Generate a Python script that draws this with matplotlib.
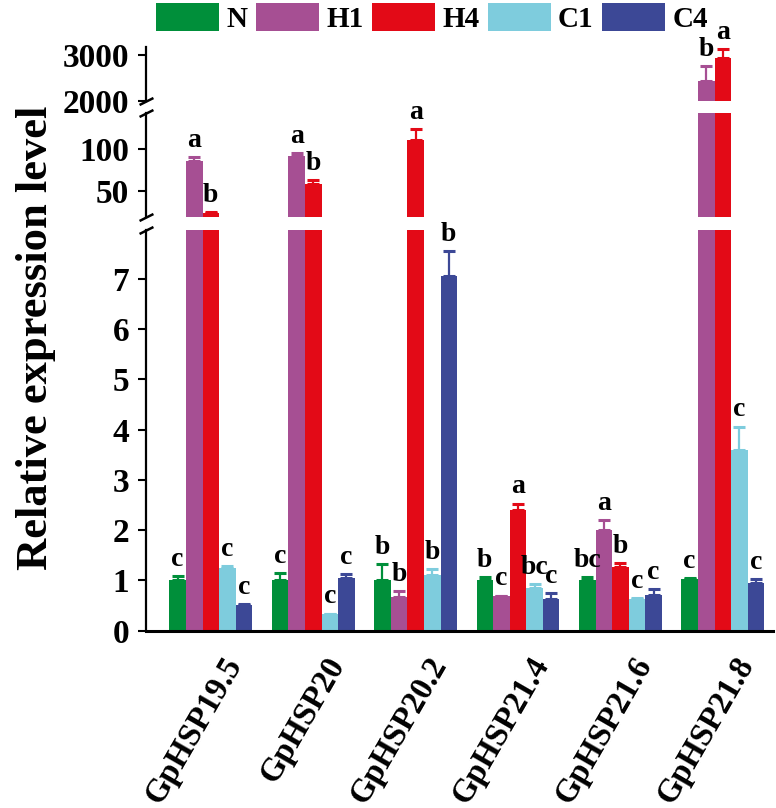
import matplotlib
matplotlib.use('Agg')
import matplotlib.pyplot as plt
import matplotlib.transforms as mtransforms
import numpy as np

# data
genes = ['GpHSP19.5', 'GpHSP20', 'GpHSP20.2', 'GpHSP21.4', 'GpHSP21.6', 'GpHSP21.8']
treatments = ['N', 'H1', 'H4', 'C1', 'C4']
colors = ['#008F3A', '#A64F93', '#E30A17', '#7ECCDD', '#3C4896']

n_val = [1.0, 1.0, 1.0, 1.01, 1.01, 1.03]
n_err = [0.09, 0.15, 0.33, 0.06, 0.05, 0.01]
h1_val = [86, 92, 0.67, 0.69, 2.01, 2441]
h1_err = [4.5, 3.6, 0.12, 0.01, 0.19, 326]
h4_val = [23, 58, 111, 2.41, 1.27, 2941]
h4_err = [1.0, 4.5, 13.3, 0.12, 0.08, 183]
c1_val = [1.25, 0.33, 1.10, 0.84, 0.64, 3.59]
c1_err = [0.03, 0.01, 0.13, 0.09, 0.01, 0.47]
c4_val = [0.51, 1.05, 7.05, 0.64, 0.72, 0.95]
c4_err = [0.02, 0.08, 0.50, 0.10, 0.10, 0.08]

n_let = ['c', 'c', 'b', 'b', 'bc', 'c']
h1_let = ['a', 'a', 'b', 'c', 'a', 'b']
h4_let = ['b', 'b', 'a', 'a', 'b', 'a']
c1_let = ['c', 'c', 'b', 'bc', 'c', 'c']
c4_let = ['c', 'c', 'b', 'c', 'c', 'c']

values = [n_val, h1_val, h4_val, c1_val, c4_val]
errors = [n_err, h1_err, h4_err, c1_err, c4_err]
letters = [n_let, h1_let, h4_let, c1_let, c4_let]

plt.rcParams['font.family'] = ['Liberation Serif', 'DejaVu Serif']
plt.rcParams['font.weight'] = 'bold'

W, H = 776, 808
fig = plt.figure(figsize=(W / 100, H / 100), dpi=100)


def frac_axes(top_px, bottom_px, left_px=146, right_px=773):
    return fig.add_axes([left_px / W, 1 - bottom_px / H,
                         (right_px - left_px) / W, (bottom_px - top_px) / H])


ax_top = frac_axes(46.7, 101)
ax_mid = frac_axes(113, 216.7)
ax_bot = frac_axes(230, 630.7)
axes = [ax_top, ax_mid, ax_bot]

ax_top.set_ylim(2000, 3180)
ax_mid.set_ylim(18.6, 143.8)
ax_bot.set_ylim(0, 7.97)

x = np.arange(len(genes))
w = 0.162
bars = []
for ax in axes:
    for k in range(5):
        pos = x + (k - 2) * w
        b = ax.bar(pos, values[k], width=w, color=colors[k], edgecolor='none')
        if ax is ax_bot:
            bars.append(b)
        ax.errorbar(pos, values[k], yerr=[np.zeros(6), errors[k]], fmt='none',
                    ecolor=colors[k], elinewidth=1.6, capsize=4.5, capthick=2.2)
    ax.set_xlim(-0.633, 5.49)
    for s in ['top', 'right']:
        ax.spines[s].set_visible(False)
    ax.spines['left'].set_linewidth(1.6)
    ax.tick_params(axis='y', direction='out', length=6, width=1.5, labelsize=24, pad=6)

for ax in [ax_top, ax_mid]:
    ax.spines['bottom'].set_visible(False)
    ax.set_xticks([])

ax_top.set_yticks([2000, 3000])
ax_mid.set_yticks([50, 100])
ax_bot.set_yticks(range(8))
ax_bot.spines['bottom'].set_linewidth(2.2)

# letters above the error bars
for k in range(5):
    for i in range(6):
        top = values[k][i] + errors[k][i]
        if top < 8:
            ax = ax_bot
        elif top < 150:
            ax = ax_mid
        else:
            ax = ax_top
        ax.annotate(letters[k][i], (x[i] + (k - 2) * w, top), xytext=(0, 3),
                    textcoords='offset points', ha='center', va='bottom',
                    fontsize=20, fontweight='bold', annotation_clip=False)

# break marks
kw = dict(marker=[(-1, -0.5), (1, 0.5)], markersize=10, linestyle='none',
          color='k', mec='k', mew=1.8, clip_on=False)
ax_top.plot([0], [0], transform=ax_top.transAxes, **kw)
ax_mid.plot([0], [1], transform=ax_mid.transAxes, **kw)
ax_mid.plot([0], [0], transform=ax_mid.transAxes, **kw)
ax_bot.plot([0], [1], transform=ax_bot.transAxes, **kw)

# x tick labels
ax_bot.set_xticks(x)
ax_bot.set_xticklabels(genes, rotation=60, ha='right', va='center',
                       rotation_mode='anchor', fontsize=23.5, fontweight='bold')
ax_bot.tick_params(axis='x', length=0, pad=21)
offset = mtransforms.ScaledTranslation(0.24, 0, fig.dpi_scale_trans)
for lab in ax_bot.get_xticklabels():
    lab.set_transform(lab.get_transform() + offset)

fig.text(36 / W, 1 - 338 / H, 'Relative expression level', rotation=90,
         ha='center', va='center', fontsize=32, fontweight='bold')

fig.legend(bars, treatments, loc='center', bbox_to_anchor=(432 / W, 1 - 18 / H),
           ncol=5, frameon=False, fontsize=21, handlelength=2.15, handleheight=1.1,
           handletextpad=0.25, columnspacing=0.3, borderpad=0.1)

fig.savefig('out.png', dpi=100)
